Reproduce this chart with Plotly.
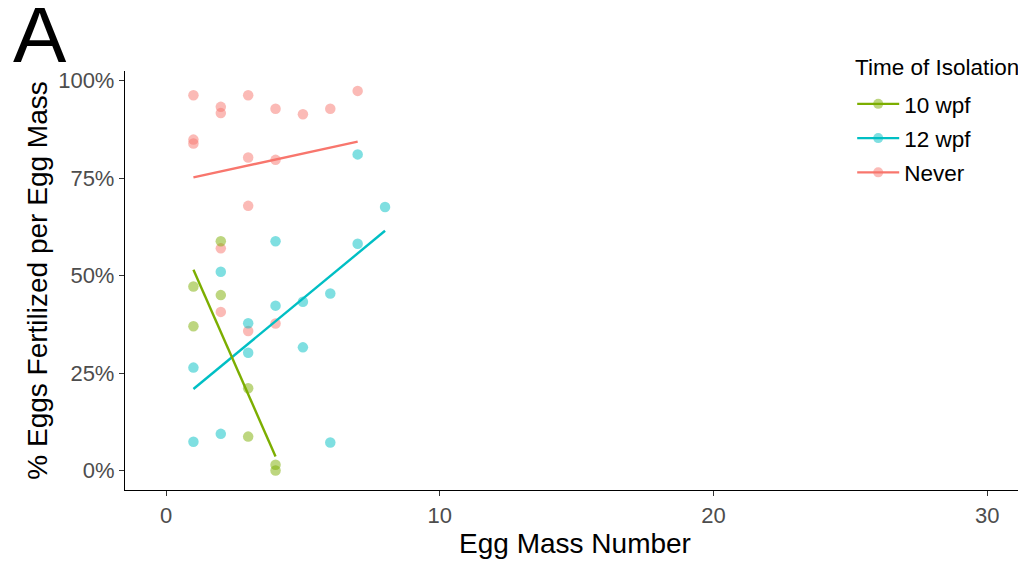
import plotly.graph_objects as go

# ---- data ----
groups = ["10 wpf", "12 wpf", "Never"]
colors = {"10 wpf": "#7CAE00", "12 wpf": "#00BFC4", "Never": "#F8766D"}

wpf10_x = [1, 1, 2, 2, 3, 3, 4, 4]
wpf10_y = [47.2, 37.0, 58.8, 45.0, 21.1, 8.7, 1.5, 0.0]

wpf12_x = [1, 1, 2, 2, 3, 3, 4, 4, 5, 5, 6, 6, 7, 7, 8]
wpf12_y = [26.4, 7.4, 51.0, 9.4, 37.8, 30.2, 58.8, 42.3, 43.3, 31.6, 45.4, 7.2, 81.1, 58.2, 67.6]

never_x = [1, 1, 1, 2, 2, 2, 2, 3, 3, 3, 3, 4, 4, 4, 5, 6, 7]
never_y = [96.3, 84.9, 83.9, 93.3, 91.7, 57.0, 40.7, 96.3, 80.3, 67.9, 35.8, 92.8, 79.7, 37.7, 91.4, 92.8, 97.4]

# fitted-line endpoints (linear fits as drawn in the reference)
fit10_x = [1, 4]
fit10_y = [51.5, 3.6]
fit12_x = [1, 8]
fit12_y = [20.9, 61.5]
fitN_x = [1, 7]
fitN_y = [75.2, 84.4]

x_ticks = [0, 10, 20, 30]
y_ticks = [0, 25, 50, 75, 100]
y_ticktext = ["0%", "25%", "50%", "75%", "100%"]

points = {"10 wpf": (wpf10_x, wpf10_y), "12 wpf": (wpf12_x, wpf12_y), "Never": (never_x, never_y)}
fits = {"10 wpf": (fit10_x, fit10_y), "12 wpf": (fit12_x, fit12_y), "Never": (fitN_x, fitN_y)}

FONT = "Liberation Sans, Arial, sans-serif"

fig = go.Figure()

# points
for g in ["Never", "12 wpf", "10 wpf"]:
    px_, py_ = points[g]
    fig.add_trace(go.Scatter(
        x=px_, y=py_, mode="markers", showlegend=False, legendgroup=g,
        marker=dict(size=10.5, color=colors[g], opacity=0.5, line=dict(width=0)),
        hoverinfo="x+y",
    ))

# fitted lines
for g in ["Never", "12 wpf", "10 wpf"]:
    fx, fy = fits[g]
    fig.add_trace(go.Scatter(
        x=fx, y=fy, mode="lines", showlegend=False, legendgroup=g,
        line=dict(color=colors[g], width=2.4),
    ))

# legend entries (line + point key)
for g in groups:
    fig.add_trace(go.Scatter(
        x=[None], y=[None], mode="lines+markers", name=g, legendgroup=g,
        line=dict(color=colors[g], width=2.4),
        marker=dict(size=10, color=colors[g], opacity=0.5),
    ))

fig.update_layout(
    width=1018, height=555,
    margin=dict(l=117, r=1, t=63, b=73),
    paper_bgcolor="white", plot_bgcolor="white",
    font=dict(family=FONT, color="black"),
    showlegend=True,
    legend=dict(
        font=dict(size=22.5, color="black"),
        x=0.808, xanchor="left", y=0.972, yanchor="top",
        bgcolor="rgba(255,255,255,0)", tracegroupgap=2, itemwidth=42,
    ),
    xaxis=dict(
        range=[-1.5, 31.38], tickvals=x_ticks, showgrid=False, zeroline=False,
        showline=True, linecolor="black", linewidth=1.3,
        ticks="outside", ticklen=5, tickcolor="#333333", tickwidth=1.1,
        tickfont=dict(size=22, color="#4D4D4D"),
        title=dict(text="Egg Mass Number", font=dict(size=28, color="black"), standoff=6),
        automargin=False,
    ),
    yaxis=dict(
        range=[-5, 102.5], tickvals=y_ticks, ticktext=y_ticktext, showgrid=False, zeroline=False,
        showline=True, linecolor="black", linewidth=1.3,
        ticks="outside", ticklen=5, tickcolor="#333333", tickwidth=1.1,
        tickfont=dict(size=22, color="#4D4D4D"),
        title=dict(text="% Eggs Fertilized per Egg Mass", font=dict(size=28, color="black"), standoff=2),
        automargin=False,
    ),
    annotations=[
        dict(
            text="A", xref="paper", yref="paper", x=-0.127, y=1.086,
            xanchor="left", yanchor="middle", showarrow=False,
            font=dict(size=80, color="black", family=FONT),
        ),
        dict(
            text="Time of Isolation", xref="paper", yref="paper", x=0.809, y=1.0095,
            xanchor="left", yanchor="middle", showarrow=False,
            font=dict(size=22.5, color="black", family=FONT),
        ),
    ],
)

fig.write_html("out.html")
